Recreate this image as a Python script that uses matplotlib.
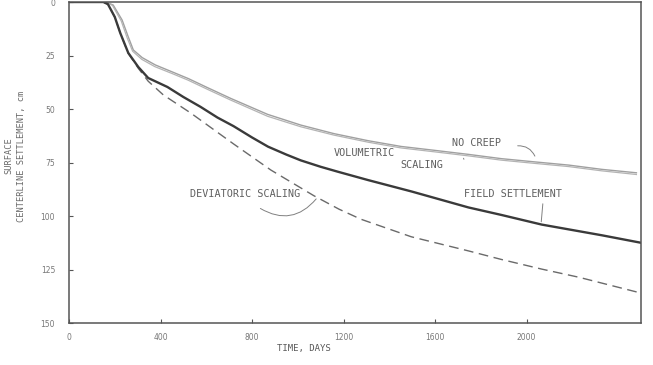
import matplotlib
matplotlib.use("Agg")
import matplotlib.pyplot as plt

# ---------------------------------------------------------------------------
# Data (time in days, settlement in cm)
# ---------------------------------------------------------------------------
field_days = [0, 150, 170, 200, 224, 259, 303, 346, 430, 500, 575, 649, 719,
              800, 870, 950, 1013, 1100, 1175, 1307, 1496, 1746, 1890, 2066,
              2329, 2500]
field_cm = [0, 0, 1, 7, 14.5, 23.8, 30.4, 35.5, 39.7, 44.4, 49, 54, 58,
            63.3, 67.6, 71.3, 74, 77, 79.3, 83.2, 88.5, 96, 99.5, 104,
            109, 112.5]

nocreep_days = [0, 160, 193, 232, 259, 281, 320, 377, 452, 522, 605, 706,
                868, 1013, 1158, 1307, 1452, 1597, 1746, 1890, 2035, 2184,
                2329, 2480]
nocreep_cm = [0, 0, 1.4, 8.4, 16.3, 22.4, 26, 29.4, 32.7, 35.8, 40, 45,
              52.5, 57.5, 61.5, 64.8, 67.5, 69.3, 71.2, 73.2, 74.7, 76.2,
              78.2, 79.8]

volumetric_days = [0, 160, 190, 228, 255, 278, 318, 375, 450, 520, 605, 706,
                   868, 1013, 1158, 1307, 1452, 1597, 1746, 1890, 2035, 2184,
                   2329, 2480]
volumetric_cm = [0, 0, 1.6, 8.8, 17, 23, 26.8, 30.2, 33.4, 36.5, 40.8, 45.8,
                 53.4, 58.3, 62.2, 65.5, 68.2, 70, 71.9, 73.9, 75.4, 76.9,
                 78.9, 80.6]

deviatoric_days = [0, 150, 170, 200, 224, 259, 303, 346, 412, 531, 719, 882,
                   1070, 1180, 1276, 1496, 1746, 1890, 2066, 2228, 2500]
deviatoric_cm = [0, 0, 1, 7, 14.5, 24, 31, 37, 43.4, 51.8, 66.3, 78.5,
                 90.5, 96.8, 101.5, 109.7, 116.3, 120.3, 124.8, 128.6, 136]

x_ticks = [0, 400, 800, 1200, 1600, 2000]
y_ticks = [0, 25, 50, 75, 100, 125, 150]

INK = "#555555"
LABEL_FONT = "DejaVu Sans Mono"

# ---------------------------------------------------------------------------
# Figure
# ---------------------------------------------------------------------------
fig = plt.figure(figsize=(6.53, 3.65), dpi=100)
ax = fig.add_axes([0.1057, 0.115, 0.8759, 0.8795])

ax.plot(nocreep_days, nocreep_cm, color="#a0a0a0", lw=1.0)
ax.plot(volumetric_days, volumetric_cm, color="#b4b4b4", lw=0.9)
ax.plot(deviatoric_days, deviatoric_cm, color="#6a6a6a", lw=1.0,
        dashes=(7, 4))
ax.plot(field_days, field_cm, color="#3a3a3a", lw=1.7)

ax.set_xlim(0, 2500)
ax.set_ylim(150, 0)
ax.set_xticks(x_ticks)
ax.set_yticks(y_ticks)
ax.set_xticklabels([str(t) for t in x_ticks])
ax.set_yticklabels([str(t) for t in y_ticks])
ax.tick_params(direction="in", length=3, width=0.8, colors=INK,
               labelsize=5.5, labelcolor="#777777")
ax.tick_params(axis="x", pad=7)
ax.tick_params(axis="y", pad=10)

for s in ax.spines.values():
    s.set_color(INK)
    s.set_linewidth(1.1)

ax.set_xlabel("TIME, DAYS", fontsize=6.5, color="#5a5a5a",
              family=LABEL_FONT, labelpad=6)
ax.xaxis.set_label_coords(0.41, -0.065)
ax.set_ylabel("SURFACE\nCENTERLINE SETTLEMENT, cm", fontsize=6.2,
              color="#6a6a6a", family=LABEL_FONT, linespacing=1.5)
ax.yaxis.set_label_coords(-0.075, 0.52)

# ---------------------------------------------------------------------------
# Curve labels with leader lines
# ---------------------------------------------------------------------------
txt = dict(fontsize=7.3, color="#5e5e5e", family=LABEL_FONT,
           ha="center", va="center")
lead = dict(arrowstyle="-", color="#808080", lw=0.7)

ax.text(1779, 65.9, "NO CREEP", **txt)
ax.annotate("", xy=(2041, 73.2), xytext=(1949, 67.3),
            arrowprops=dict(connectionstyle="arc3,rad=-0.4", **lead))

ax.text(1289, 70.6, "VOLUMETRIC", **txt)
ax.text(1543, 76.2, "SCALING", **txt)
ax.annotate("", xy=(1726, 73.5), xytext=(1720, 71.8),
            arrowprops=dict(**lead))

ax.text(1941, 89.7, "FIELD SETTLEMENT", **txt)
ax.annotate("", xy=(2063, 104), xytext=(2072, 93),
            arrowprops=dict(**lead))

ax.text(769, 89.7, "DEVIATORIC SCALING", **txt)
ax.annotate("", xy=(1088, 91.0), xytext=(826, 95.8),
            arrowprops=dict(connectionstyle="arc3,rad=0.45", **lead))

fig.savefig("out.png", dpi=100)
